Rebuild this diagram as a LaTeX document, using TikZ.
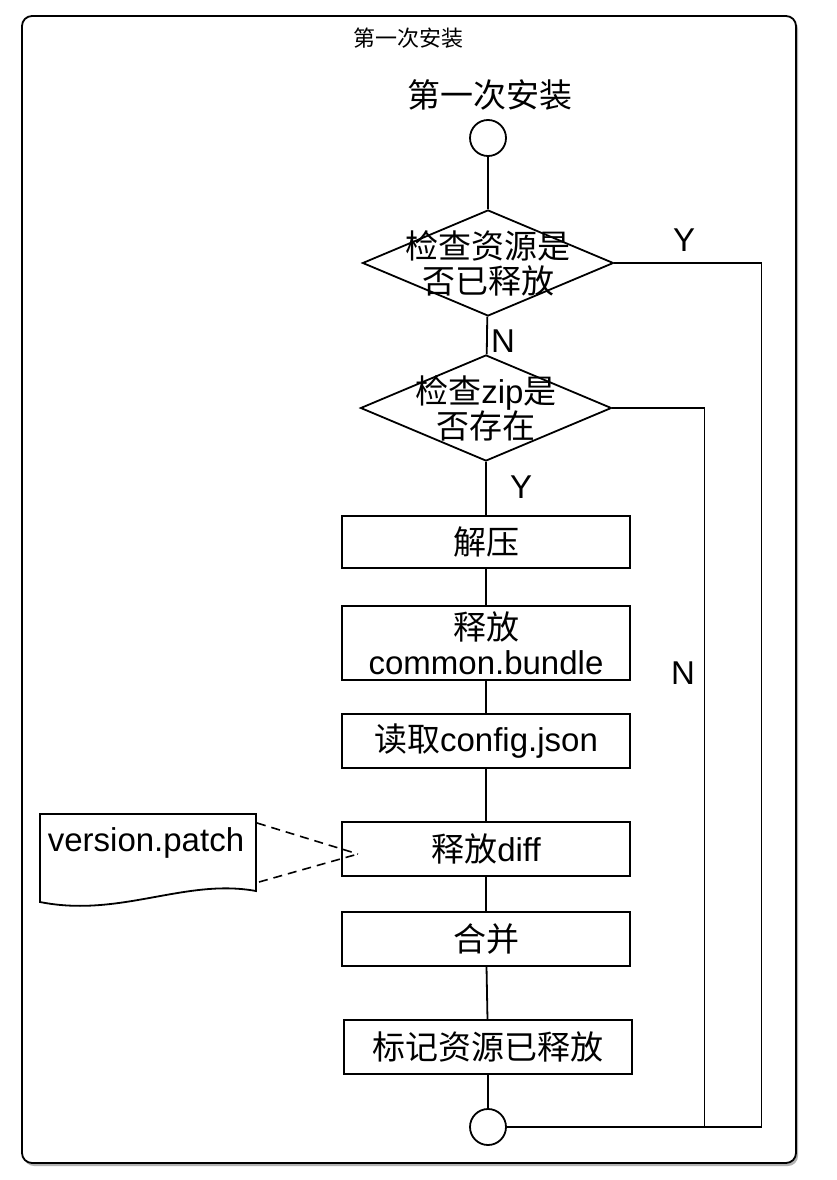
\documentclass[tikz,border=0pt]{standalone}
\usepackage{fontspec}
\setmainfont{Liberation Sans}
\newfontfamily\cjk{Noto Sans CJK SC}
\usetikzlibrary{shapes.geometric,calc}

\begin{document}
\begin{tikzpicture}[x=1pt, y=-1pt, line width=1.8pt,
  every node/.style={font=\fontsize{33}{35}\selectfont},
  stepbox/.style={draw, fill=white, minimum width=288, minimum height=54, inner sep=4pt, align=center},
  check/.style={draw, diamond, fill=white, minimum width=251, minimum height=106, inner sep=0pt},
  term/.style={draw, circle, fill=white, minimum size=36, inner sep=0pt},
  link/.style={line width=1.8pt},
  note/.style={dashed, dash pattern=on 9pt off 6pt, line width=1.6pt}]
  \useasboundingbox (0,0) rectangle (836,1180);

  % Frame with shadow
  \fill[black!30, rounded corners=10] (24,19) rectangle (798,1166);
  \draw[fill=white, rounded corners=10] (22,16) rectangle (796,1163);
  \node (title) at (408,38) {\fontsize{22}{24}\selectfont\cjk 第一次安装};

  % Start
  \node (head) at (490,95) {\cjk 第一次安装};
  \node[term] (start) at (488,138) {};

  % Checks
  \node[check, label={[align=center]center:{{\cjk 检查资源是}\\{\cjk 否已释放}}}] (chk1) at (488,263) {};
  \node[check, label={[align=center]center:{{\cjk 检查}zip{\cjk 是}\\{\cjk 否存在}}}] (chk2) at (486,408) {};

  % Steps
  \node[stepbox, minimum height=52] (unzip) at (486,542) {\cjk 解压};
  \node[stepbox, minimum height=74] (bundle) at (486,643) {{\cjk 释放}\\common.bundle};
  \node[stepbox] (config) at (486,741) {{\cjk 读取}config.json};
  \node[stepbox] (diff) at (486,849) {{\cjk 释放}diff};
  \node[stepbox] (merge) at (486,939) {\cjk 合并};
  \node[stepbox] (mark) at (488,1047) {\cjk 标记资源已释放};

  % End
  \node[term] (stop) at (488,1127) {};

  % Main line
  \draw[link] (start) -- (chk1);
  \draw[link] (chk1) -- (chk2);
  \draw[link] (chk2) -- (unzip);
  \draw[link] (unzip) -- (bundle);
  \draw[link] (bundle) -- (config);
  \draw[link] (config) -- (diff);
  \draw[link] (diff) -- (merge);
  \draw[link] (merge) -- (mark);
  \draw[link] (mark) -- (stop);

  % Side branches
  \draw[link] (chk1.east) -- ++(147,0) |- (stop.east);
  \draw[link] (chk2.east) -- ++(92,0) |- (stop.east);

  % Branch labels
  \node (y1) at (684,240) {Y};
  \node (n1) at (503,341) {N};
  \node (y2) at (521,487) {Y};
  \node (n2) at (683,673) {N};

  % Patch file
  \draw[fill=white] (40,814) -- (256,814) -- (256,891)
    .. controls (185,878) and (120,918) .. (40,902) -- cycle;
  \node (patch) at (146,843) {version.patch};
  \coordinate (patchtop) at (257,823);
  \coordinate (patchbot) at (259,882);
  \coordinate (pin) at (358,854);
  \draw[note] (patchtop) -- (pin);
  \draw[note] (patchbot) -- (pin);
\end{tikzpicture}
\end{document}
